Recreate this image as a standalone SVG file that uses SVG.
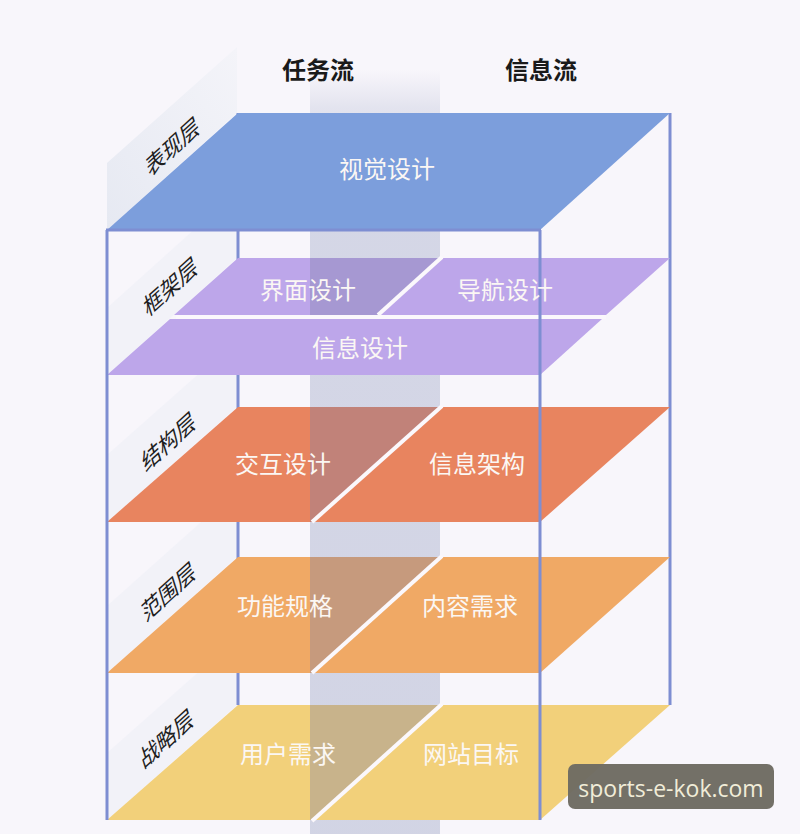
<svg xmlns="http://www.w3.org/2000/svg" width="800" height="834" viewBox="0 0 800 834">
  <defs>
    <linearGradient id="bandGrad" x1="0" y1="0" x2="0" y2="1">
      <stop offset="0" stop-color="#a3abc9" stop-opacity="0"/>
      <stop offset="0.05" stop-color="#a3abc9" stop-opacity="0.25"/>
      <stop offset="0.2" stop-color="#a3abc9" stop-opacity="0.42"/>
      <stop offset="1" stop-color="#a3abc9" stop-opacity="0.45"/>
    </linearGradient>
    <linearGradient id="panelGrad" x1="0" y1="1" x2="1" y2="0">
      <stop offset="0" stop-color="#e6e9f2"/>
      <stop offset="1" stop-color="#f4f4f9"/>
    </linearGradient>
    <clipPath id="cFw"><polygon points="238,258 442,258 378,315 174,315"/></clipPath>
    <clipPath id="cSt"><polygon points="238,407 442,407 312,522 107,522"/></clipPath>
    <clipPath id="cSc"><polygon points="238,557 442,557 312,673 107,673"/></clipPath>
    <clipPath id="cSg"><polygon points="238,705 442,705 312,820 107,820"/></clipPath>
    <style>
      .line { stroke: #7e8ed2; stroke-width: 3; fill: none; }
      .gap { stroke: #fbf8fc; stroke-width: 4; fill: none; }
      .shade { fill: #7d80a8; opacity: 0.36; }
      .head { font-family: "Noto Sans CJK SC", "Noto Sans", sans-serif; font-size: 24px; font-weight: bold; fill: #1a1a1a; text-anchor: middle; }
      .lbl { font-family: "Noto Sans CJK SC", "Noto Sans", sans-serif; font-size: 24px; fill: #fbf7f4; text-anchor: middle; dominant-baseline: central; }
      .side { font-family: "Noto Sans CJK SC", "Noto Sans", sans-serif; font-size: 23px; fill: #1e1e1e; text-anchor: middle; dominant-baseline: central; }
      .panel { fill: #eceef5; }
    </style>
  </defs>

  <rect x="0" y="0" width="800" height="834" fill="#f8f6fb"/>

  <!-- side label panels -->
  <polygon points="107,163 237,47 237,113 107,230" fill="url(#panelGrad)"/>
  <polygon class="panel" points="107,308 237,191 237,258 107,375" opacity="0.5"/>
  <polygon class="panel" points="107,455 237,340 237,407 107,522" opacity="0.5"/>
  <polygon class="panel" points="107,606 237,490 237,557 107,673" opacity="0.5"/>
  <polygon class="panel" points="107,753 237,638 237,705 107,820" opacity="0.5"/>

  <!-- task flow band -->
  <rect x="310" y="70" width="130" height="764" fill="url(#bandGrad)"/>

  <!-- back frame lines -->
  <g id="frame-back">
    <line class="line" x1="238" y1="113" x2="238" y2="705"/>
    <line class="line" x1="670" y1="113" x2="670" y2="705"/>
  </g>

  <!-- layers -->
  <g id="layer-framework">
    <polygon points="238,258 670,258 606,315 174,315" fill="#bda6ea"/>
    <polygon points="170,319 602,319 540,375 107,375" fill="#bda6ea"/>
    <rect class="shade" x="310" y="250" width="130" height="70" clip-path="url(#cFw)"/>
  </g>
  <g id="layer-structure">
    <polygon points="238,407 670,407 540,522 107,522" fill="#e8845f"/>
    <rect class="shade" x="310" y="400" width="130" height="130" clip-path="url(#cSt)"/>
  </g>
  <g id="layer-scope">
    <polygon points="238,557 670,557 540,673 107,673" fill="#f0a965"/>
    <rect class="shade" x="310" y="550" width="130" height="130" clip-path="url(#cSc)"/>
  </g>
  <g id="layer-strategy">
    <polygon points="238,705 670,705 540,820 107,820" fill="#f2d07a"/>
    <rect class="shade" x="310" y="700" width="130" height="130" clip-path="url(#cSg)"/>
  </g>

  <!-- top face -->
  <g id="layer-presentation">
    <polygon points="238,113 670,113 540,230 107,230" fill="#7c9edc"/>
  </g>

  <!-- gaps between blocks -->
  <g id="gaps">
    <line class="gap" x1="176" y1="317" x2="606" y2="317"/>
    <line class="gap" x1="442" y1="257" x2="378" y2="315"/>
    <line class="gap" x1="442" y1="406" x2="312" y2="522"/>
    <line class="gap" x1="442" y1="556" x2="312" y2="673"/>
    <line class="gap" x1="442" y1="704" x2="312" y2="821"/>
  </g>

  <!-- front frame lines -->
  <g id="frame-front">
    <line class="line" x1="107" y1="230" x2="107" y2="820"/>
    <line class="line" x1="540" y1="230" x2="540" y2="820"/>
    <line class="line" x1="106" y1="230" x2="541" y2="230" stroke-width="2"/>
  </g>

  <!-- headings -->
  <text class="head" x="318" y="79">任务流</text>
  <text class="head" x="541" y="79">信息流</text>

  <!-- layer texts -->
  <g id="node-visual"><text class="lbl" x="387" y="167">视觉设计</text></g>
  <g id="node-interface"><text class="lbl" x="308" y="288">界面设计</text></g>
  <g id="node-navigation"><text class="lbl" x="505" y="288">导航设计</text></g>
  <g id="node-infodesign"><text class="lbl" x="360" y="346">信息设计</text></g>
  <g id="node-interaction"><text class="lbl" x="283" y="462">交互设计</text></g>
  <g id="node-ia"><text class="lbl" x="477" y="462">信息架构</text></g>
  <g id="node-function"><text class="lbl" x="285" y="604">功能规格</text></g>
  <g id="node-content"><text class="lbl" x="470" y="604">内容需求</text></g>
  <g id="node-userneeds"><text class="lbl" x="288" y="752">用户需求</text></g>
  <g id="node-sitegoals"><text class="lbl" x="471" y="752">网站目标</text></g>

  <!-- side labels -->
  <g id="side-labels">
    <text class="side" transform="translate(172,145) matrix(0.74,-0.67,0.3,0.95,0,0)">表现层</text>
    <text class="side" transform="translate(170,285) matrix(0.74,-0.67,0.3,0.95,0,0)">框架层</text>
    <text class="side" transform="translate(168,440) matrix(0.74,-0.67,0.3,0.95,0,0)">结构层</text>
    <text class="side" transform="translate(168,590) matrix(0.74,-0.67,0.3,0.95,0,0)">范围层</text>
    <text class="side" transform="translate(166,737) matrix(0.74,-0.67,0.3,0.95,0,0)">战略层</text>
  </g>

  <!-- watermark -->
  <g id="watermark">
    <rect x="568" y="764" width="206" height="45" rx="7" fill="#6e6b62" opacity="0.97"/>
    <text x="671" y="797" font-family="'Open Sans', 'Noto Sans', sans-serif" font-size="23" fill="#f0ecd8" text-anchor="middle">sports-e-kok.com</text>
  </g>
</svg>
